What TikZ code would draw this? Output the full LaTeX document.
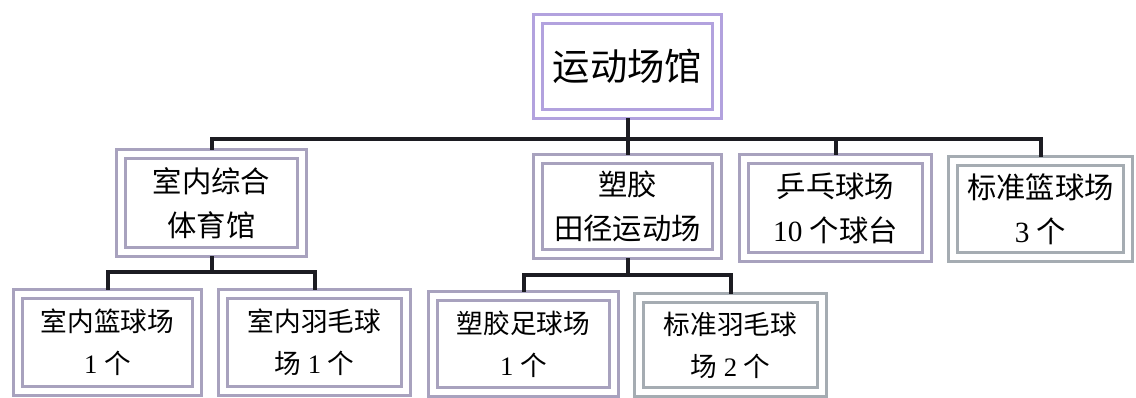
\documentclass[tikz,border=0pt]{standalone}
\usepackage{fontspec}
\setmainfont{Liberation Serif}
\newfontfamily\cjk{Noto Sans CJK SC}
\definecolor{boxc}{RGB}{168,162,190}
\definecolor{boxtop}{RGB}{178,162,222}
\definecolor{boxg}{RGB}{165,172,178}
\definecolor{linec}{RGB}{28,28,34}
\tikzset{
  box/.style={draw=boxc, line width=2.4pt, double=white, double distance=4.5pt,
    rectangle, inner sep=0pt, outer sep=4.5pt, align=center, fill=white},
  midfont/.style={font=\fontsize{22}{33}\selectfont},
  lowfont/.style={font=\fontsize{20}{31.5}\selectfont},
  conn/.style={draw=linec, line width=3pt, line cap=rect}
}
\begin{document}
\begin{tikzpicture}[x=0.75pt,y=-0.75pt]
\useasboundingbox (0,0) rectangle (1136,398);
% nodes
\node[box, draw=boxtop, minimum width=134.25pt, minimum height=71.25pt,
      font=\fontsize{28}{30}\selectfont] (top) at (627.5,66.5) {\cjk 运动场馆};
\node[box, midfont, minimum width=135.75pt, minimum height=73.5pt] (A) at (211.5,203)
  {\cjk 室内综合\\\cjk 体育馆};
\node[box, midfont, minimum width=134.25pt, minimum height=71.25pt] (B) at (627.5,206.5)
  {\cjk 塑胶\\\cjk 田径运动场};
\node[box, midfont, minimum width=137.25pt, minimum height=73.5pt] (C) at (835.5,208)
  {\cjk 乒乓球场\\10 {\cjk 个球台}};
\node[box, draw=boxg, midfont, minimum width=131.25pt, minimum height=72pt] (D) at (1040.5,209)
  {\cjk 标准篮球场\\3 {\cjk 个}};
\node[box, lowfont, minimum width=134.25pt, minimum height=72.75pt] (E) at (107.5,342.5)
  {\cjk 室内篮球场\\1 {\cjk 个}};
\node[box, lowfont, minimum width=137.25pt, minimum height=72.75pt] (F) at (314.5,342.5)
  {\cjk 室内羽毛球\\{\cjk 场} 1 {\cjk 个}};
\node[box, lowfont, minimum width=135.75pt, minimum height=72pt] (G) at (523.5,344)
  {\cjk 塑胶足球场\\1 {\cjk 个}};
\node[box, draw=boxg, lowfont, minimum width=137.25pt, minimum height=70.5pt] (H) at (730.5,345)
  {\cjk 标准羽毛球\\{\cjk 场} 2 {\cjk 个}};
% connectors
\draw[conn] (top.south) -- (B.north);
\draw[conn] (A.north) -- (A.north |- 0,139) -- (D.north |- 0,139) -- (D.north);
\draw[conn] (C.north |- 0,139) -- (C.north);
\draw[conn] (A.south) -- (A.south |- 0,272);
\draw[conn] (E.north) -- (E.north |- 0,272) -- (F.north |- 0,272) -- (F.north);
\draw[conn] (B.south) -- (B.south |- 0,275);
\draw[conn] (G.north) -- (G.north |- 0,275) -- (H.north |- 0,275) -- (H.north);
\end{tikzpicture}
\end{document}
